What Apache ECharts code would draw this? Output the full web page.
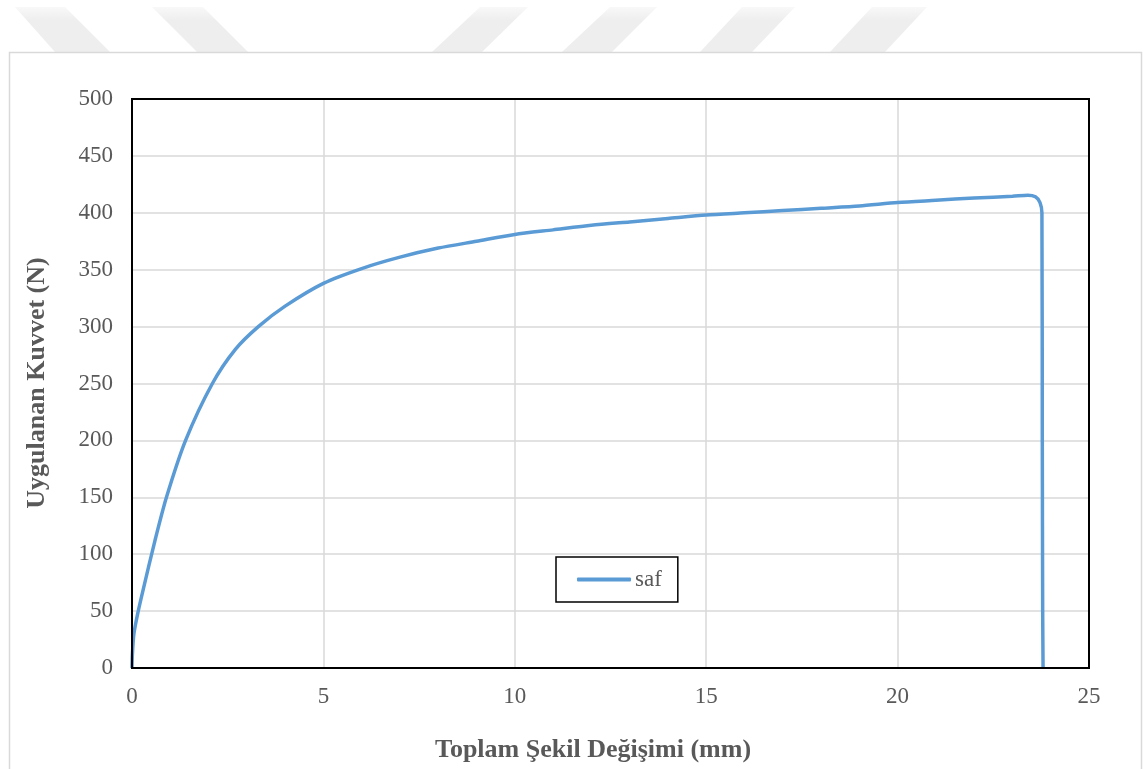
<!DOCTYPE html>
<html>
<head>
<meta charset="utf-8">
<script src="https://cdn.jsdelivr.net/npm/echarts@6/dist/echarts.min.js"></script>
<style>
html,body{margin:0;padding:0;background:#fff;}
#chart{width:1143px;height:769px;}
</style>
</head>
<body>
<div id="chart"></div>
<script>
const seriesName = 'saf';
const deformation = [0, 0.01, 0.05, 0.15, 0.3, 0.6, 0.9, 1.4, 2.1, 2.7, 3.3, 4.0, 5.0, 6.0, 7.0, 8.0, 9.0, 10, 11, 12, 13, 14, 15, 16, 17, 18, 19, 20, 21, 22, 23.0, 23.4, 23.6, 23.72, 23.77, 23.78, 23.79, 23.8];
const force = [0, 12, 30, 48, 70, 112, 150, 200, 250, 280, 300, 318, 338, 351, 361, 369, 375, 381, 385, 389, 392, 395, 398, 400, 402, 404, 406, 409, 411, 413, 414.5, 415.5, 414, 409, 400, 200, 50, 0];
const xTicks = {min: 0, max: 25, interval: 5};
const yTicks = {min: 0, max: 500, interval: 50};
const xTitle = 'Toplam Şekil Değişimi (mm)';
const yTitle = 'Uygulanan Kuvvet (N)';

const chart = echarts.init(document.getElementById('chart'), null, {renderer: 'canvas'});
const points = deformation.map((x, i) => [x, force[i]]);
const font = 'Liberation Serif, Times New Roman, serif';
const stripeFill = new echarts.graphic.LinearGradient(0, 0, 0, 1, [
  {offset: 0, color: 'rgba(238,238,238,0.4)'},
  {offset: 0.3, color: '#eeeeee'},
  {offset: 1, color: '#eeeeee'}
]);
const stripes = [
  [[15,7],[65,7],[110,52],[55,52]],
  [[152,7],[203,7],[248,52],[197,52]],
  [[480,7],[528,7],[482,52],[432,52]],
  [[610,7],[657,7],[612,52],[562,52]],
  [[742,7],[795,7],[752,52],[700,52]],
  [[872,7],[927,7],[885,52],[830,52]]
].map(p => ({type: 'polygon', shape: {points: p}, style: {fill: stripeFill}, silent: true, z: 0}));

chart.setOption({
  animation: false,
  backgroundColor: '#fff',
  grid: {left: 132, top: 99, width: 957, height: 569, show: false},
  xAxis: {
    type: 'value', min: xTicks.min, max: xTicks.max, interval: xTicks.interval,
    axisLine: {show: true, lineStyle: {color: '#000', width: 2}},
    axisTick: {show: false},
    axisLabel: {color: '#595959', fontFamily: font, fontSize: 23, margin: 17},
    splitLine: {show: true, showMinLine: false, showMaxLine: false, lineStyle: {color: '#d9d9d9', width: 1.5}}
  },
  yAxis: {
    type: 'value', min: yTicks.min, max: yTicks.max, interval: yTicks.interval,
    axisLine: {show: true, lineStyle: {color: '#000', width: 2}},
    axisTick: {show: false},
    axisLabel: {color: '#595959', fontFamily: font, fontSize: 23, margin: 19},
    splitLine: {show: true, showMinLine: false, showMaxLine: false, lineStyle: {color: '#d9d9d9', width: 1.5}}
  },
  legend: {
    left: 556, top: 557,
    data: [{name: seriesName, icon: 'roundRect'}],
    borderColor: '#000', borderWidth: 1.5,
    padding: [11, 16, 11, 21],
    itemWidth: 54, itemHeight: 4, itemGap: 4,
    textStyle: {color: '#595959', fontFamily: font, fontSize: 23, padding: [0, 0, 0, -1]}
  },
  graphic: stripes.concat([
    {type: 'rect', shape: {x: 9.5, y: 52.5, width: 1132, height: 760}, style: {fill: 'none', stroke: '#d9d9d9', lineWidth: 1.5}, silent: true, z: 1},
    {type: 'rect', shape: {x: 132, y: 99, width: 957, height: 569}, style: {fill: 'none', stroke: '#000', lineWidth: 2}, silent: true, z: 4},
    {type: 'text', x: 593, y: 750, style: {text: xTitle, fontFamily: font, fontSize: 26, fontWeight: 'bold', fill: '#595959', textAlign: 'center', textVerticalAlign: 'middle'}, z: 5},
    {type: 'text', x: 37, y: 383, rotation: Math.PI / 2, style: {text: yTitle, fontFamily: font, fontSize: 26, fontWeight: 'bold', fill: '#595959', textAlign: 'center', textVerticalAlign: 'middle'}, z: 5}
  ]),
  series: [{
    name: seriesName, type: 'line', data: points,
    symbol: 'none', showSymbol: false, smooth: 0.25,
    lineStyle: {color: '#5b9bd5', width: 3.5},
    itemStyle: {color: '#5b9bd5'}
  }]
});
</script>
</body>
</html>
